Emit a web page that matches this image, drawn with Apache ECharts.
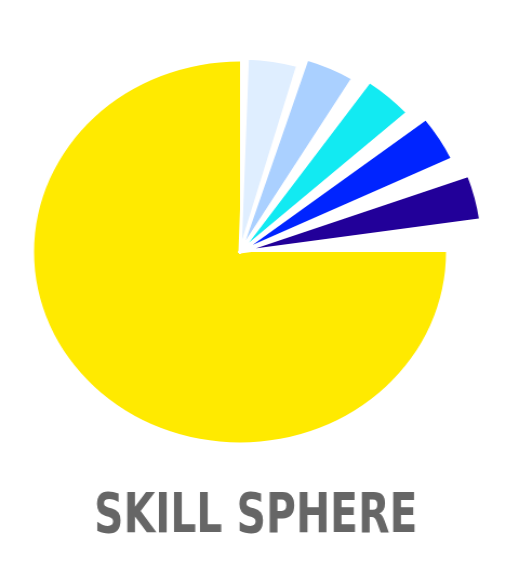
<!DOCTYPE html>
<html>
<head>
<meta charset="utf-8">
<script src="https://cdn.jsdelivr.net/npm/echarts@6/dist/echarts.min.js"></script>
<style>
  html, body { margin: 0; padding: 0; background: #ffffff; overflow: hidden; }
  #chart { width: 468px; height: 570px; transform: scaleX(1.0812); transform-origin: 0 0; }
</style>
</head>
<body>
<div id="chart"></div>
<script>
// Sectors: angles in degrees measured clockwise from 12 o'clock
const sectorNames = ['Core', 'Skill 1', 'Skill 2', 'Skill 3', 'Skill 4', 'Skill 5'];
const sectorStart = [90, 2.0, 17.8, 35.1, 52.2, 70.05];
const sectorSpan = [270, 14.0, 13.2, 12.9, 12.4, 11.7];
// reach of each sector, relative to the core (core = 100)
const sectorReach = [100, 101.8, 106.3, 109.4, 114.2, 118.1];

const palette = ['#ffea00', '#dfeeff', '#aad0ff', '#12eaf2', '#0024ff', '#220099'];
const titleText = 'SKILL SPHERE';

const chart = echarts.init(document.getElementById('chart'), null, { renderer: 'canvas' });
const CENTER = [222, 252];
const CORE_RADIUS = 190.5;

const series = sectorNames.map((name, i) => {
  const isCore = i === 0;
  return {
    type: 'pie',
    name: name,
    center: CENTER,
    radius: [0, CORE_RADIUS * sectorReach[i] / 100],
    startAngle: 90 - sectorStart[i],
    clockwise: true,
    silent: true,
    animation: false,
    avoidLabelOverlap: false,
    label: { show: false },
    labelLine: { show: false },
    emphasis: { disabled: true },
    data: [
      {
        name: name,
        value: sectorSpan[i],
        itemStyle: {
          color: palette[i],
          borderColor: '#ffffff',
          borderWidth: isCore ? 0 : 3
        }
      },
      {
        name: name + ' rest',
        value: 360 - sectorSpan[i],
        itemStyle: { color: 'rgba(0,0,0,0)', borderWidth: 0 }
      }
    ]
  };
});

chart.setOption({
  backgroundColor: '#ffffff',
  graphic: [{
    type: 'text',
    x: 87,
    y: 489,
    scaleX: 0.75,
    silent: true,
    style: {
      text: titleText,
      font: "bold 56px 'DejaVu Sans Condensed', 'DejaVu Sans', sans-serif",
      fill: '#666666'
    }
  }],
  series: series
});
</script>
</body>
</html>
